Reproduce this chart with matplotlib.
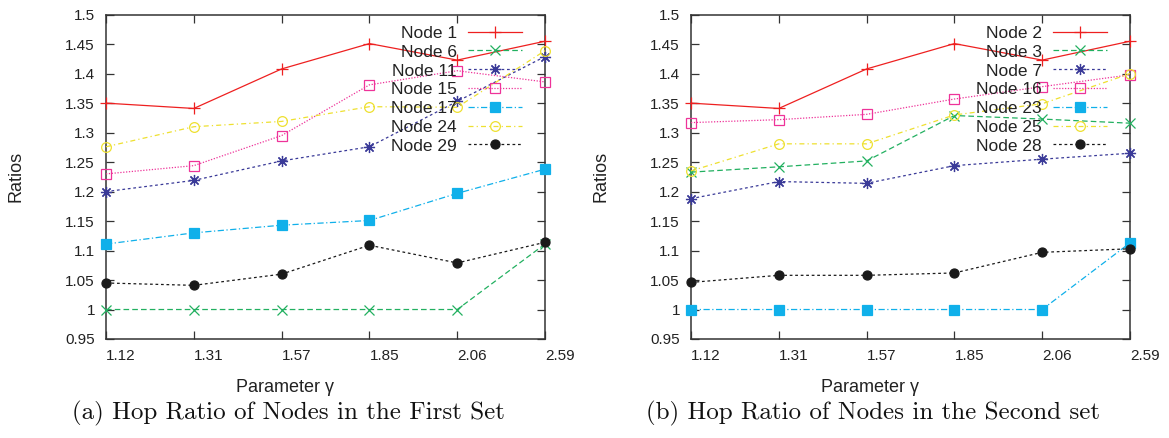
import numpy as np
import matplotlib
matplotlib.use('Agg')
import matplotlib.pyplot as plt

plt.rcParams['font.family'] = ['Liberation Sans', 'DejaVu Sans']

# gamma values used on the x axis (equally spaced categories)
gamma_labels = ['1.12', '1.31', '1.57', '1.85', '2.06', '2.59']

# first set of nodes
set1_names = ['Node 1', 'Node 6', 'Node 11', 'Node 15', 'Node 17', 'Node 24', 'Node 29']
node1 = [1.350, 1.341, 1.408, 1.451, 1.423, 1.455]
node6 = [1.000, 1.000, 1.000, 1.000, 1.000, 1.111]
node11 = [1.200, 1.219, 1.252, 1.276, 1.353, 1.429]
node15 = [1.230, 1.244, 1.295, 1.381, 1.405, 1.386]
node17 = [1.111, 1.130, 1.143, 1.151, 1.197, 1.238]
node24 = [1.276, 1.310, 1.319, 1.344, 1.343, 1.439]
node29 = [1.045, 1.041, 1.060, 1.109, 1.079, 1.114]

# second set of nodes
set2_names = ['Node 2', 'Node 3', 'Node 7', 'Node 16', 'Node 23', 'Node 25', 'Node 28']
node2 = [1.350, 1.341, 1.408, 1.451, 1.423, 1.455]
node3 = [1.233, 1.242, 1.252, 1.329, 1.323, 1.316]
node7 = [1.188, 1.217, 1.214, 1.244, 1.255, 1.265]
node16 = [1.317, 1.322, 1.331, 1.357, 1.378, 1.398]
node23 = [1.000, 1.000, 1.000, 1.000, 1.000, 1.113]
node25 = [1.235, 1.281, 1.281, 1.330, 1.349, 1.400]
node28 = [1.046, 1.058, 1.058, 1.062, 1.097, 1.103]

set1 = [node1, node6, node11, node15, node17, node24, node29]
set2 = [node2, node3, node7, node16, node23, node25, node28]

captions = ['(a) Hop Ratio of Nodes in the First Set',
            '(b) Hop Ratio of Nodes in the Second set']

# gnuplot-like line types
styles = [
    dict(color='#ee2020', dashes=(), marker='+', ms=8, mfc='#ee2020'),
    dict(color='#22b060', dashes=(4.5, 2.5), marker='x', ms=6.5, mfc='#22b060'),
    dict(color='#3a3a98', dashes=(2.2, 2.2), marker=(8, 2, 0), ms=8, mfc='#3a3a98'),
    dict(color='#ee3399', dashes=(1.0, 1.3), marker='s', ms=6.5, mfc='none'),
    dict(color='#10b0ea', dashes=(5, 2, 1, 2), marker='s', ms=6.5, mfc='#10b0ea'),
    dict(color='#eee030', dashes=(4, 2.5, 1, 2.5), marker='o', ms=7, mfc='none'),
    dict(color='#1a1a1a', dashes=(2.2, 2.2), marker='o', ms=6.5, mfc='#1a1a1a'),
]

W, H = 1169, 438
fig = plt.figure(figsize=(W / 100, H / 100), dpi=100)

axes_left = [106, 691]
ax_w, ax_top, ax_bot = 439, 14.7, 339

x = np.arange(len(gamma_labels))


def draw_panel(ax, series, names):
    for vals, name, st in zip(series, names, styles):
        ax.plot(x, vals, color=st['color'], lw=0.9, dashes=st['dashes'],
                marker=st['marker'], ms=st['ms'], mfc=st['mfc'],
                mec=st['color'], mew=0.9, clip_on=False, zorder=3)

    # key in the top right corner, text right-justified before the sample
    for i, (name, st) in enumerate(zip(names, styles)):
        yk = 0.9476 - i * 0.0579
        ax.text(0.799, yk - 0.0194, name, transform=ax.transAxes,
                ha='right', va='baseline', fontsize=12.5, color='#222222', zorder=4)
        ax.plot([0.8246, 0.9476], [yk, yk], transform=ax.transAxes,
                color=st['color'], lw=0.9, dashes=st['dashes'], zorder=4)
        ax.plot([0.886], [yk], transform=ax.transAxes, color=st['color'],
                marker=st['marker'], ms=st['ms'], mfc=st['mfc'],
                mec=st['color'], mew=0.9, zorder=4)

    ax.set_xlim(0, len(gamma_labels) - 1)
    ax.set_ylim(0.95, 1.5)
    ax.set_xticks(x)
    ax.set_xticklabels(gamma_labels, ha='left')
    ax.set_yticks(np.arange(0.95, 1.5001, 0.05))
    ax.yaxis.set_major_formatter(plt.FuncFormatter(lambda v, p: '%g' % round(v, 2)))
    ax.tick_params(direction='in', length=6, width=0.9, color='#333333',
                   top=True, right=True, labelsize=11, labelcolor='#222222')
    ax.tick_params(axis='y', pad=8)
    ax.tick_params(axis='x', pad=7)
    for sp in ax.spines.values():
        sp.set_linewidth(1.1)
        sp.set_color('#333333')
    ax.set_ylabel('Ratios', fontsize=13, color='#222222')
    ax.yaxis.set_label_coords(-81 / ax_w, 0.5)


for left, series, names, cap in zip(axes_left, [set1, set2], [set1_names, set2_names], captions):
    ax = fig.add_axes([left / W, 1 - ax_bot / H, ax_w / W, (ax_bot - ax_top) / H])
    draw_panel(ax, series, names)
    fig.text((left + 179) / W, 1 - 387 / H, 'Parameter γ', ha='center', va='center',
             fontsize=13, color='#222222')
    fig.text((left + 182) / W, 1 - 413 / H, cap, ha='center', va='center',
             fontsize=18, family='cmr10', color='#111111')

fig.savefig('out.png', dpi=100)
